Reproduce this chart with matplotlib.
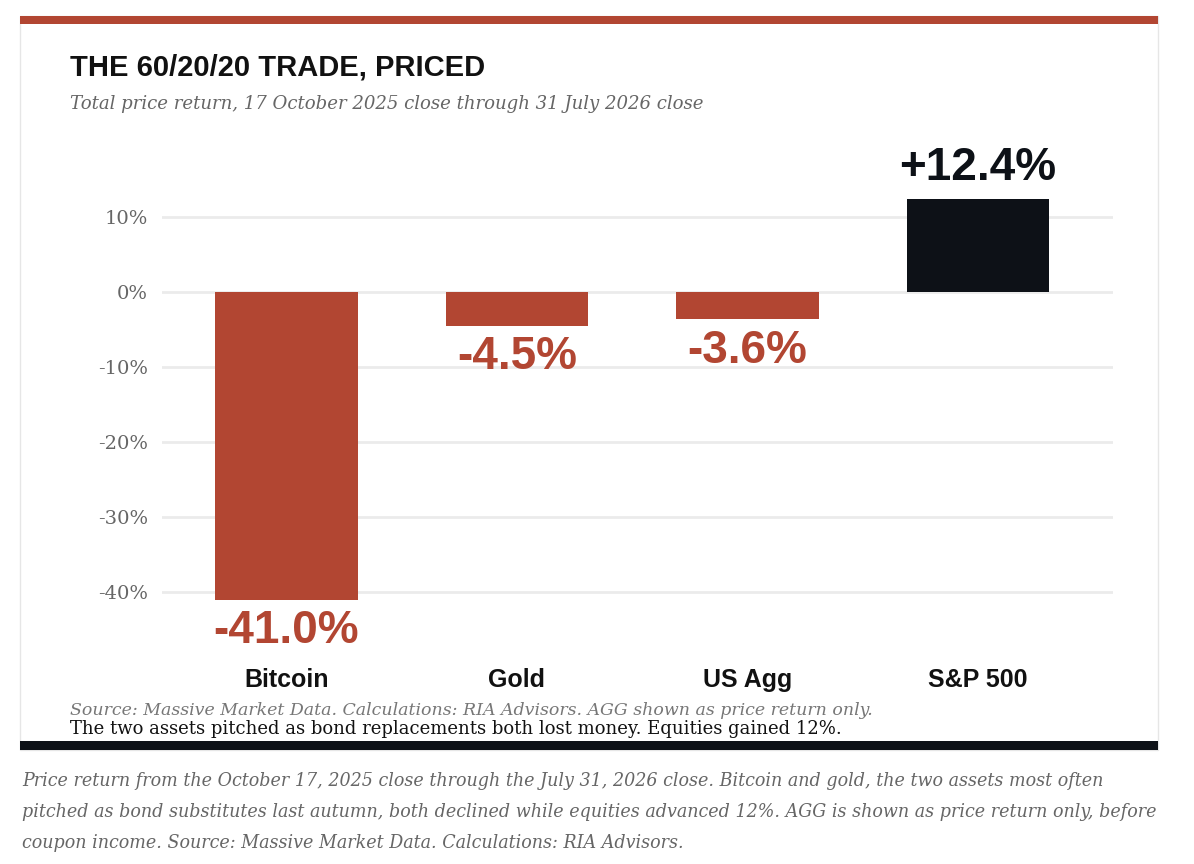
import matplotlib.pyplot as plt
from matplotlib.patches import Rectangle

# data
assets = ['Bitcoin', 'Gold', 'US Agg', 'S&P 500']
returns = [-41.0, -4.5, -3.6, 12.4]
value_labels = ['-41.0%', '-4.5%', '-3.6%', '+12.4%']
y_ticks = [10, 0, -10, -20, -30, -40]
y_tick_labels = ['10%', '0%', '-10%', '-20%', '-30%', '-40%']

RED = '#B24632'
INK = '#0D1117'
W, H = 1194, 864
SANS = 'Liberation Sans'
SERIF = 'DejaVu Serif'

fig = plt.figure(figsize=(W / 100, H / 100), dpi=100)
fig.patch.set_facecolor('white')

def fx(px):
    return px / W

def fy(py):
    return 1 - py / H

# card with coloured rules top and bottom
fig.patches.append(Rectangle((fx(20), fy(750)), fx(1158) - fx(20), fy(16) - fy(750),
                             transform=fig.transFigure, facecolor='white',
                             edgecolor='#e6e6e6', lw=1, zorder=-2))
fig.patches.append(Rectangle((fx(20), fy(24)), fx(1158) - fx(20), fy(16) - fy(24),
                             transform=fig.transFigure, facecolor=RED, lw=0, zorder=-1))
fig.patches.append(Rectangle((fx(20), fy(750)), fx(1158) - fx(20), fy(741) - fy(750),
                             transform=fig.transFigure, facecolor=INK, lw=0, zorder=-1))

# axes
ax = fig.add_axes([fx(162), fy(650), fx(1113) - fx(162), fy(150) - fy(650)])
ax.set_facecolor('none')
ax.set_zorder(1)
colors = [RED if v < 0 else INK for v in returns]
x = range(len(assets))
ax.bar(x, returns, width=0.618, color=colors, zorder=3)

ax.set_xlim(-0.54, 3.586)
ax.set_ylim(-47.73, 18.93)
ax.set_yticks(y_ticks)
ax.set_yticklabels(y_tick_labels, family=SERIF, fontsize=14, color='#666666')
ax.grid(axis='y', color='#ebebeb', lw=2, zorder=0)
ax.tick_params(axis='y', length=0, pad=10)
ax.set_xticks(list(x))
ax.set_xticklabels(assets, family=SANS, fontweight='bold', fontsize=18, color='#111111')
ax.tick_params(axis='x', length=0, pad=13)
for s in ax.spines.values():
    s.set_visible(False)

for i, (v, lab) in enumerate(zip(returns, value_labels)):
    if v < 0:
        ax.annotate(lab, (i, v), xytext=(0, -31.5), textcoords='offset points',
                    ha='center', va='baseline', family=SANS, fontweight='bold',
                    fontsize=33, color=RED)
    else:
        ax.annotate(lab, (i, v), xytext=(0, 14), textcoords='offset points',
                    ha='center', va='baseline', family=SANS, fontweight='bold',
                    fontsize=33, color=INK)

# texts
fig.text(fx(70), fy(76), 'THE 60/20/20 TRADE, PRICED', family=SANS, fontweight='bold',
         fontsize=21, color='#111111', va='baseline')
fig.text(fx(70), fy(109), 'Total price return, 17 October 2025 close through 31 July 2026 close',
         family=SERIF, style='italic', fontsize=13.1, color='#666666', va='baseline')
fig.text(fx(70), fy(715), 'Source: Massive Market Data. Calculations: RIA Advisors. AGG shown as price return only.',
         family=SERIF, style='italic', fontsize=12.5, color='#777777', va='baseline')
fig.text(fx(70), fy(734), 'The two assets pitched as bond replacements both lost money. Equities gained 12%.',
         family=SERIF, fontsize=13, color='#111111', va='baseline')

caption = ['Price return from the October 17, 2025 close through the July 31, 2026 close. Bitcoin and gold, the two assets most often',
           'pitched as bond substitutes last autumn, both declined while equities advanced 12%. AGG is shown as price return only, before',
           'coupon income. Source: Massive Market Data. Calculations: RIA Advisors.']
for k, line in enumerate(caption):
    fig.text(fx(22), fy(786 + 31 * k), line, family=SERIF, style='italic',
             fontsize=12.65, color='#666666', va='baseline')

fig.savefig('out.png', dpi=100, facecolor='white')
